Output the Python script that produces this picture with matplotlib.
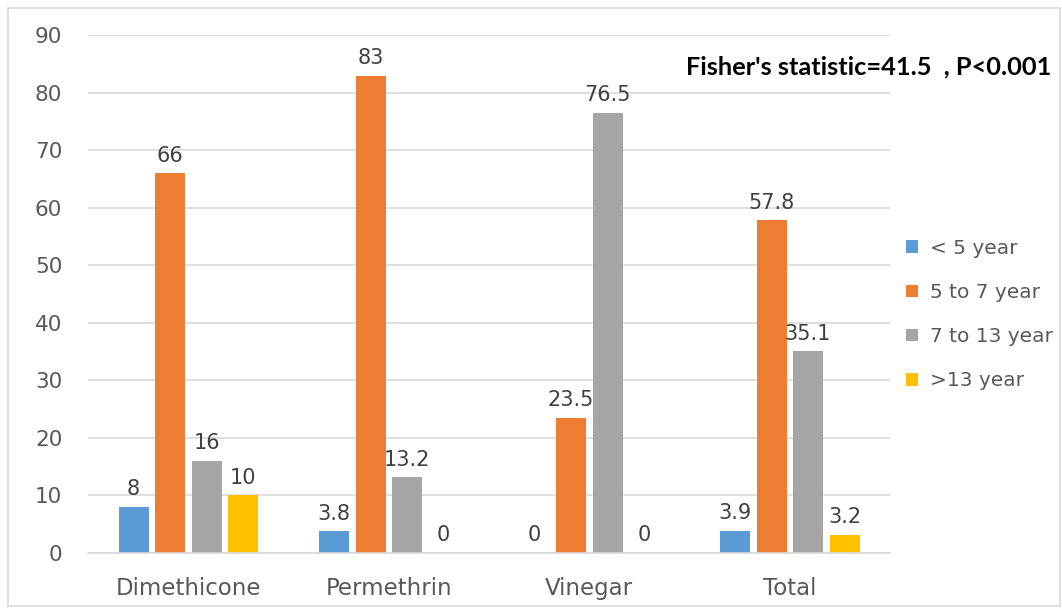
import matplotlib
matplotlib.use('Agg')
import matplotlib.pyplot as plt
import numpy as np

categories = ['Dimethicone', 'Permethrin', 'Vinegar', 'Total']
series_names = ['< 5 year', '5 to 7 year', '7 to 13 year', '>13 year']
lt5 = [8, 3.8, 0, 3.9]
y5to7 = [66, 83, 23.5, 57.8]
y7to13 = [16, 13.2, 76.5, 35.1]
gt13 = [10, 0, 0, 3.2]
labels = [['8', '3.8', '0', '3.9'],
          ['66', '83', '23.5', '57.8'],
          ['16', '13.2', '76.5', '35.1'],
          ['10', '0', '0', '3.2']]
colors = ['#5B9BD5', '#ED7D31', '#A5A5A5', '#FFC000']

fig = plt.figure(figsize=(10.62, 6.08), dpi=100)
ax = fig.add_axes([0.0829, 0.0905, 0.7552, 0.8515])

x = np.arange(len(categories))
w = 0.15
step = 0.182
for i, vals in enumerate([lt5, y5to7, y7to13, gt13]):
    pos = x + (i - 1.5) * step
    ax.bar(pos, vals, width=w, color=colors[i], label=series_names[i], zorder=2)
    for p, v, t in zip(pos, vals, labels[i]):
        ax.text(p, v + 1.3, t, ha='center', va='bottom', fontsize=15, color='#404040')

ax.set_xlim(-0.5, 3.5)
ax.set_ylim(0, 90)
ax.set_yticks(range(0, 91, 10))
ax.set_xticks(x)
ax.set_xticklabels(categories, fontsize=16.5)
ax.yaxis.grid(True, color='#D9D9D9', linewidth=1.2, zorder=0)
ax.tick_params(axis='both', length=0, labelcolor='#595959')
ax.tick_params(axis='y', pad=18.5, labelsize=15.5)
ax.tick_params(axis='x', pad=17)
for s in ['top', 'right', 'left']:
    ax.spines[s].set_visible(False)
ax.spines['bottom'].set_color('#D9D9D9')
ax.spines['bottom'].set_linewidth(1.2)

leg = fig.legend(loc='upper left', bbox_to_anchor=(0.836, 0.637), frameon=False,
                 fontsize=14.5, labelcolor='#595959', handlelength=0.6, handleheight=0.6,
                 labelspacing=1.25, handletextpad=0.6)

fig.text(0.646, 0.878, "Fisher's statistic=41.5  , P<0.001", fontsize=18.3,
         fontweight='bold', family='Lato', color='black')

border = plt.Rectangle((0.008, 0.003), 0.99, 0.984, transform=fig.transFigure,
                       fill=False, edgecolor='#D9D9D9', linewidth=1.2)
fig.patches.append(border)

plt.savefig('out.png', dpi=100)
